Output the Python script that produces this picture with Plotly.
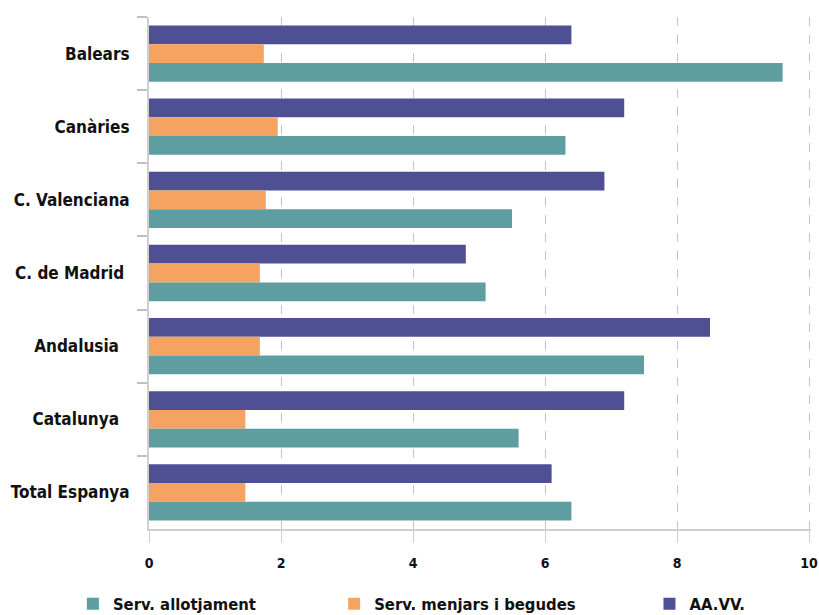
import plotly.graph_objects as go

categories = ["Balears", "Canàries", "C. Valenciana", "C. de Madrid ",
              "Andalusia  ", "Catalunya  ", "Total Espanya"]
allotjament = [9.6, 6.31, 5.5, 5.1, 7.5, 5.6, 6.4]
menjars = [1.74, 1.95, 1.77, 1.68, 1.68, 1.46, 1.46]
aavv = [6.4, 7.2, 6.9, 4.8, 8.5, 7.2, 6.1]
x_ticks = [0, 2, 4, 6, 8, 10]

FONT = "DejaVu Sans Condensed, Liberation Sans Narrow, sans-serif"

# top-to-bottom order inside each group (y axis is reversed)
series = [
    ("AA.VV.", aavv, "#4F5094", "legend3", 0.793),
    ("Serv. menjars i begudes", menjars, "#F4A460", "legend2", 0.408),
    ("Serv. allotjament", allotjament, "#5F9EA0", "legend", 0.089),
]

fig = go.Figure()
for name, vals, color, leg, _ in series:
    fig.add_trace(go.Bar(y=categories, x=vals, name=name, orientation="h",
                         marker=dict(color=color, line=dict(width=0)),
                         legend=leg))

legend_style = dict(orientation="h", yanchor="middle", y=0.018, yref="container",
                    xanchor="left", xref="container",
                    font=dict(family=FONT, size=16.5, color="#111", weight="bold"),
                    itemwidth=30, bgcolor="rgba(0,0,0,0)")

fig.update_layout(
    width=819, height=615,
    margin=dict(l=149, r=8, t=17, b=86),
    paper_bgcolor="white", plot_bgcolor="white",
    barmode="group", bargap=0.23, bargroupgap=0,
    showlegend=True,
    **{leg: dict(legend_style, x=xpos) for _, _, _, leg, xpos in series},
)
# a hair past 10 so the last grid line and its label are kept
fig.update_xaxes(range=[0, 10.03], tickvals=x_ticks, showgrid=True,
                 gridcolor="#c4c4c4", griddash="dash", gridwidth=1,
                 zeroline=False, showline=True, linecolor="#cfcfcf", linewidth=2,
                 ticks="outside", ticklen=12, tickcolor="#cfcfcf", tickwidth=1,
                 automargin=False, ticklabelstandoff=8,
                 tickfont=dict(family=FONT, size=14, color="#111", weight="bold"))
fig.update_yaxes(autorange="reversed", showline=True, linecolor="#cfcfcf",
                 linewidth=2, ticks="outside", ticklen=10, tickcolor="#c0c0c0",
                 tickwidth=2, tickson="boundaries", showgrid=False,
                 ticklabelstandoff=14, automargin=False,
                 tickfont=dict(family=FONT, size=17, color="#111", weight="bold"))

# drop the default page margin so the figure sits at the top-left corner
fig.write_html("out.html", config={"displayModeBar": False},
               post_script="document.body.style.margin = '0';")
